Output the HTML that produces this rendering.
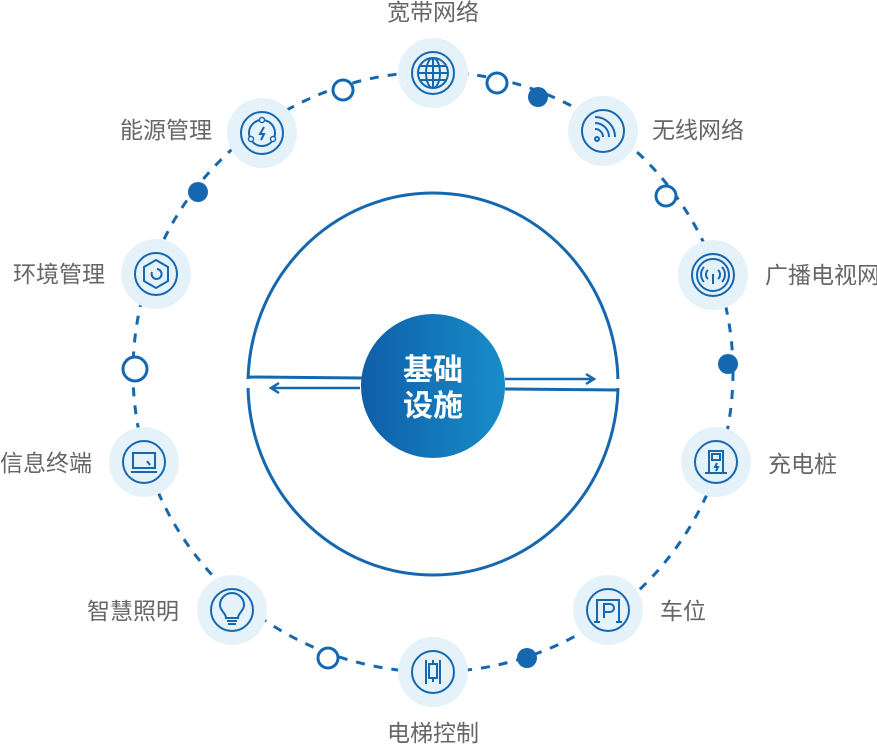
<!DOCTYPE html>
<html><head><meta charset="utf-8"><style>
html,body{margin:0;padding:0;background:#fff;}
svg{display:block}
text{font-family:"Liberation Sans","Noto Sans CJK SC",sans-serif;}
.l{font-size:23px;fill:#666;}
</style></head><body>
<svg width="877" height="744" viewBox="0 0 877 744">
<defs>
<linearGradient id="g" x1="0" x2="1" y1="0" y2="0">
<stop offset="0" stop-color="#0f5ea8"/><stop offset="1" stop-color="#178dc9"/>
</linearGradient>
</defs>
<circle cx="433" cy="372" r="300" fill="none" stroke="#1568b0" stroke-width="3" stroke-dasharray="9 9"/>
<ellipse cx="433" cy="384" rx="185" ry="191" fill="none" stroke="#1568b0" stroke-width="3"/>
<rect x="245" y="379" width="376" height="9" fill="#fff"/>
<path d="M247 377 L362 378 M505 389 L618 390" stroke="#1568b0" stroke-width="3" fill="none"/>
<path d="M360 388 L272 388 M279 383 L271 388 L279 393" stroke="#1568b0" stroke-width="2.5" fill="none"/>
<path d="M505 379 L593 379 M586 374 L594 379 L586 384" stroke="#1568b0" stroke-width="2.5" fill="none"/>
<circle cx="433" cy="386" r="72" fill="url(#g)"/>
<text x="433" y="380" text-anchor="middle" font-size="30" font-weight="bold" fill="#fff">基础</text>
<text x="433" y="416" text-anchor="middle" font-size="30" font-weight="bold" fill="#fff">设施</text>
<g stroke="#1568b0" stroke-width="3">
<circle cx="343" cy="90" r="10" fill="#fff"/>
<circle cx="497" cy="83" r="10" fill="#fff"/>
<circle cx="666" cy="196" r="10" fill="#fff"/>
<circle cx="135" cy="369" r="12" fill="#fff"/>
<circle cx="328" cy="658" r="10" fill="#fff"/>
</g>
<g fill="#1568b0">
<circle cx="538" cy="97" r="10"/>
<circle cx="198" cy="192" r="10"/>
<circle cx="728" cy="364" r="10"/>
<circle cx="527" cy="658" r="10"/>
</g>
<g fill="#e6f2f9">
<circle cx="433" cy="73" r="35"/><circle cx="603" cy="131" r="35"/>
<circle cx="713" cy="275" r="35"/><circle cx="716" cy="462" r="35"/>
<circle cx="608" cy="610" r="35"/><circle cx="433" cy="672" r="35"/>
<circle cx="232" cy="610" r="35"/><circle cx="144" cy="462" r="35"/>
<circle cx="156" cy="274" r="35"/><circle cx="262" cy="133" r="35"/>
</g>
<g fill="none" stroke="#1568b0" stroke-width="2">
<circle cx="433" cy="73" r="21"/><circle cx="603" cy="131" r="21"/>
<circle cx="713" cy="275" r="21"/><circle cx="716" cy="462" r="21"/>
<circle cx="608" cy="610" r="21"/><circle cx="433" cy="672" r="21"/>
<circle cx="232" cy="610" r="21"/><circle cx="144" cy="462" r="21"/>
<circle cx="156" cy="274" r="21"/><circle cx="262" cy="133" r="21"/>
<circle cx="433" cy="73" r="15"/><ellipse cx="433" cy="73" rx="7" ry="15"/><path d="M418 73h30M433 58v30M420 66h26M420 80h26"/>
<circle cx="597" cy="139" r="2"/><path d="M596 131a8 8 0 0 1 8 8M596 125a14 14 0 0 1 14 14M596 119a20 20 0 0 1 20 20" transform="translate(-1,-2)"/>
<circle cx="713" cy="275" r="16"/><path d="M713 274v10M708 270a6 6 0 0 0 0 9M718 270a6 6 0 0 1 0 9M704 267a11 11 0 0 0 0 15M722 267a11 11 0 0 1 0 15"/>
<rect x="709" y="451" width="14" height="22"/><rect x="712" y="454" width="8" height="6"/><path d="M705 473h22M717 463l-2 4h3l-2 4"/>
<path d="M597 622v-22h22v22M594 622h6M616 622h6M604 618v-14h6a4 4 0 0 1 0 8h-6"/>
<path d="M426 660v24M440 660v24"/><rect x="429" y="664" width="8" height="14"/><path d="M433 660v4M433 678v4"/>
<path d="M226 618c0-5-6-7-6-13a12 12 0 0 1 24 0c0 6-6 8-6 13z"/><path d="M227 621h10M228 624h8"/>
<rect x="133" y="453" width="22" height="15"/><path d="M131 472h26M147 461l3 4"/>
<path d="M156 260l12 7v14l-12 7-12-7v-14z"/><path d="M152 272a5 5 0 1 0 5-3"/>
<circle cx="262" cy="133" r="13"/><path d="M264 127l-4 7h4l-3 6"/>
</g>
<g fill="#fff" stroke="#1568b0" stroke-width="1.5">
<circle cx="262" cy="120" r="2.5"/><circle cx="251" cy="139" r="2.5"/><circle cx="273" cy="139" r="2.5"/>
</g>
<text class="l" x="433" y="20" text-anchor="middle">宽带网络</text>
<text class="l" x="652" y="138">无线网络</text>
<text class="l" x="765" y="283">广播电视网</text>
<text class="l" x="768" y="472">充电桩</text>
<text class="l" x="660" y="619">车位</text>
<text class="l" x="433" y="741" text-anchor="middle">电梯控制</text>
<text class="l" x="179" y="619" text-anchor="end">智慧照明</text>
<text class="l" x="92" y="471" text-anchor="end">信息终端</text>
<text class="l" x="105" y="282" text-anchor="end">环境管理</text>
<text class="l" x="212" y="138" text-anchor="end">能源管理</text>
</svg>
</body></html>
